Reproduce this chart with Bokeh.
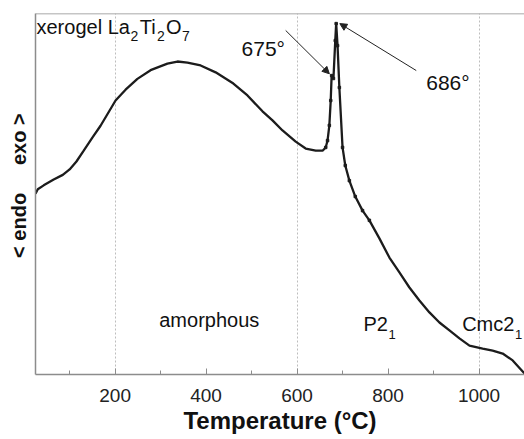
from bokeh.plotting import figure
from bokeh.models import (ColumnDataSource, Label, Arrow, NormalHead, FixedTicker, Range1d, Span)
from bokeh.embed import file_html
from bokeh.resources import INLINE

# DTA curve of xerogel La2Ti2O7 (signal in arbitrary units, exo up)
temperature = [25, 30, 43, 65, 85, 100, 115, 131, 150, 168, 201, 223, 249, 278, 315, 337, 359, 388,
               421, 460, 491, 524, 546, 568, 597, 619, 641, 656, 663, 667, 671, 674,
               676, 680, 684, 686, 689, 693, 700, 706, 715, 728, 744, 759, 781, 803,
               825, 847, 869, 891, 913, 935, 957, 979, 1008, 1030, 1052, 1074, 1100]
signal = [50.1, 51.3, 52.4, 54.0, 55.3, 56.8, 59.0, 62.0, 65.6, 68.9, 75.9, 78.9, 81.9, 84.3, 86.1,
          86.7, 86.4, 85.6, 83.7, 80.6, 77.3, 72.9, 70.4, 67.6, 64.5, 62.6, 62.0, 62.0,
          62.9, 64.8, 69.0, 75.9, 82.8, 82.0, 92.5, 97.2, 91.1, 79.5, 62.9, 57.9, 53.7,
          49.3, 45.4, 42.7, 37.7, 32.4, 28.3, 24.1, 20.5, 17.2, 14.4, 12.2, 10.0, 8.0,
          7.2, 6.6, 5.8, 3.9, 0.3]
x_ticks = [200, 400, 600, 800, 1000]
minor_x_ticks = [100, 300, 500, 700, 900]
grid_lines = [200, 600, 1000]
peak_labels = ["675°", "686°"]

FONT = "Liberation Sans"
GRAY = "#8c8c8c"
NB = "\u00a0"

p = figure(width=524, height=439, output_backend="svg", toolbar_location=None,
           x_range=Range1d(25, 1100), y_range=Range1d(0, 100),
           min_border_left=35, min_border_right=0, min_border_top=13,
           min_border_bottom=65)
p.background_fill_color = "white"
p.border_fill_color = "white"
p.outline_line_color = None
p.add_layout(Span(location=100, dimension="width", line_color=GRAY, line_width=1.5))

src = ColumnDataSource(dict(t=temperature, s=signal))
p.line("t", "s", source=src, line_color="#1c1c1c", line_width=2.3)
peak_src = ColumnDataSource(dict(t=temperature[28:44], s=signal[28:44]))
p.scatter("t", "s", source=peak_src, marker="square", size=2.5, color="#1c1c1c")

# grid
p.ygrid.visible = False
p.xgrid.ticker = FixedTicker(ticks=grid_lines)
p.xgrid.grid_line_color = "#bdbdbd"
p.xgrid.grid_line_dash = "2 2"
p.xgrid.grid_line_width = 1

# x axis
xa = p.xaxis[0]
xa.ticker = FixedTicker(ticks=x_ticks, minor_ticks=minor_x_ticks)
xa.axis_line_color = GRAY
xa.axis_line_width = 1.5
xa.major_tick_in = 6
xa.major_tick_out = 0
xa.minor_tick_in = 4
xa.minor_tick_out = 0
xa.major_tick_line_color = GRAY
xa.minor_tick_line_color = GRAY
xa.major_label_text_font = FONT
xa.major_label_text_font_size = "19px"
xa.major_label_text_color = "#222222"
xa.major_label_standoff = 14
xa.axis_label = "Temperature (°C)"
xa.axis_label_text_font = FONT
xa.axis_label_text_font_style = "bold"
xa.axis_label_text_font_size = "24px"
xa.axis_label_text_color = "#111111"
xa.axis_label_standoff = 2

# y axis
ya = p.yaxis[0]
ya.ticker = FixedTicker(ticks=[])
ya.axis_line_color = GRAY
ya.axis_line_width = 1.5
ya.major_tick_line_color = None
ya.minor_tick_line_color = None
ya.major_label_standoff = 0
ya.axis_label = NB * 3 + "<" + NB + "endo" + NB * 5 + "exo" + NB + ">"
ya.axis_label_text_font = FONT
ya.axis_label_text_font_style = "bold"
ya.axis_label_text_font_size = "20px"
ya.axis_label_text_color = "#111111"
ya.axis_label_standoff = 6

def lab(x, y, text, size):
    p.add_layout(Label(x=x, y=y, text=text, text_font=FONT, text_font_size=size,
                       text_color="#111111", text_baseline="alphabetic"))

# sample annotation: xerogel La2Ti2O7
lab(27.2, 96.2, "xerogel La", "20px")
lab(234, 93.9, "2", "14px")
lab(254, 96.2, "Ti", "20px")
lab(292, 93.9, "2", "14px")
lab(312, 96.2, "O", "20px")
lab(347, 93.9, "7", "14px")

# peak labels and arrows
lab(478, 90.4, peak_labels[0], "21px")
lab(884, 80.9, peak_labels[1], "21px")
p.add_layout(Arrow(x_start=575, y_start=95.3, x_end=temperature[32] - 5, y_end=signal[32] + 0.5,
                   line_color="#222222", line_width=1,
                   end=NormalHead(size=7, fill_color="#222222", line_color="#222222")))
p.add_layout(Arrow(x_start=862, y_start=84.2, x_end=temperature[35] + 8, y_end=signal[35],
                   line_color="#222222", line_width=1,
                   end=NormalHead(size=7, fill_color="#222222", line_color="#222222")))

# phase labels
lab(297, 15.0, "amorphous", "20px")
lab(746, 13.9, "P2", "20px")
lab(801, 11.1, "1", "13px")
lab(963, 13.9, "Cmc2", "20px")
lab(1079, 11.1, "1", "13px")

open("out.html", "w").write(file_html(p, INLINE))
